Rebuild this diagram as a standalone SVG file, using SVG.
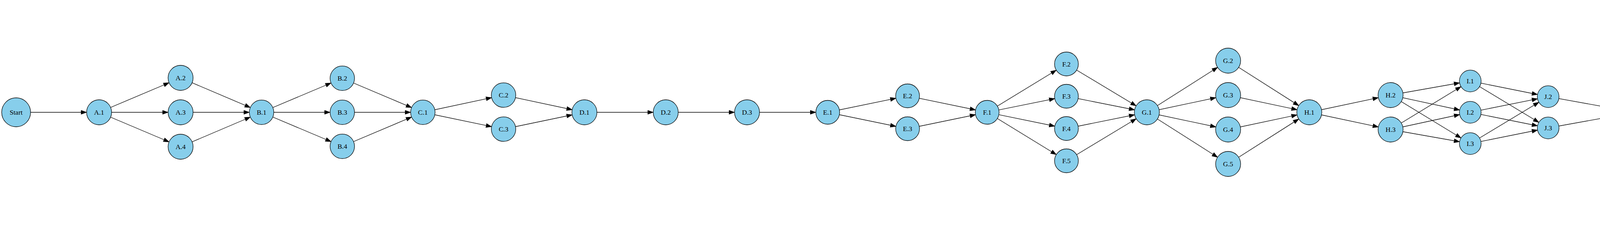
<svg xmlns="http://www.w3.org/2000/svg" width="7023" height="575" viewBox="0 0 7023 575">
<style>
.node circle { fill:#87CEEB; stroke:#000; stroke-width:1.3; }
.gate circle { fill:#FF0000; }
text { font-family:"Liberation Serif","Times New Roman",serif; font-size:17.5px; text-anchor:middle; fill:#000; }
#edges line { stroke:#000; stroke-width:1.3; fill:none; }
.a28 { marker-end:url(#m28); }
.a29 { marker-end:url(#m29); }
.a30 { marker-end:url(#m30); }
.a31 { marker-end:url(#m31); }
.a32 { marker-end:url(#m32); }
.a34 { marker-end:url(#m34); }
.a50 { marker-end:url(#m50); }
.a70 { marker-end:url(#m70); }
marker path { fill:#000; stroke:#000; stroke-width:1; }
</style>
<defs>
<marker id="m28" markerUnits="userSpaceOnUse" markerWidth="14" markerHeight="10" refX="41.8" refY="5" orient="auto" overflow="visible"><path d="M0,0 L14,5 L0,10 z"/></marker>
<marker id="m29" markerUnits="userSpaceOnUse" markerWidth="14" markerHeight="10" refX="42.8" refY="5" orient="auto" overflow="visible"><path d="M0,0 L14,5 L0,10 z"/></marker>
<marker id="m30" markerUnits="userSpaceOnUse" markerWidth="14" markerHeight="10" refX="44.5" refY="5" orient="auto" overflow="visible"><path d="M0,0 L14,5 L0,10 z"/></marker>
<marker id="m31" markerUnits="userSpaceOnUse" markerWidth="14" markerHeight="10" refX="45.3" refY="5" orient="auto" overflow="visible"><path d="M0,0 L14,5 L0,10 z"/></marker>
<marker id="m32" markerUnits="userSpaceOnUse" markerWidth="14" markerHeight="10" refX="46" refY="5" orient="auto" overflow="visible"><path d="M0,0 L14,5 L0,10 z"/></marker>
<marker id="m34" markerUnits="userSpaceOnUse" markerWidth="14" markerHeight="10" refX="48.3" refY="5" orient="auto" overflow="visible"><path d="M0,0 L14,5 L0,10 z"/></marker>
<marker id="m50" markerUnits="userSpaceOnUse" markerWidth="14" markerHeight="10" refX="64" refY="5" orient="auto" overflow="visible"><path d="M0,0 L14,5 L0,10 z"/></marker>
<marker id="m70" markerUnits="userSpaceOnUse" markerWidth="14" markerHeight="10" refX="84" refY="5" orient="auto" overflow="visible"><path d="M0,0 L14,5 L0,10 z"/></marker>
</defs>
<rect width="7023" height="575" fill="#fff"/>
<g id="edges">
<line class="a32" x1="41.3" y1="287" x2="253.7" y2="287"/>
<line class="a32" x1="253.7" y1="287" x2="462.3" y2="199"/>
<line class="a32" x1="253.7" y1="287" x2="462.3" y2="287"/>
<line class="a32" x1="253.7" y1="287" x2="462.3" y2="375"/>
<line class="a31" x1="462.3" y1="199" x2="669.6" y2="287"/>
<line class="a31" x1="462.3" y1="287" x2="669.6" y2="287"/>
<line class="a31" x1="462.3" y1="375" x2="669.6" y2="287"/>
<line class="a31" x1="669.6" y1="287" x2="876.3" y2="200"/>
<line class="a31" x1="669.6" y1="287" x2="876.3" y2="287"/>
<line class="a31" x1="669.6" y1="287" x2="876.3" y2="374"/>
<line class="a31" x1="876.3" y1="200" x2="1082.5" y2="287"/>
<line class="a31" x1="876.3" y1="287" x2="1082.5" y2="287"/>
<line class="a31" x1="876.3" y1="374" x2="1082.5" y2="287"/>
<line class="a31" x1="1082.5" y1="287" x2="1289.1" y2="243"/>
<line class="a31" x1="1082.5" y1="287" x2="1289.1" y2="330"/>
<line class="a32" x1="1289.1" y1="243" x2="1496.1" y2="287"/>
<line class="a32" x1="1289.1" y1="330" x2="1496.1" y2="287"/>
<line class="a32" x1="1496.1" y1="287" x2="1704.3" y2="287"/>
<line class="a32" x1="1704.3" y1="287" x2="1912.4" y2="287"/>
<line class="a30" x1="1912.4" y1="287" x2="2119" y2="287"/>
<line class="a30" x1="2119" y1="287" x2="2323.4" y2="245"/>
<line class="a30" x1="2119" y1="287" x2="2323.4" y2="329"/>
<line class="a30" x1="2323.4" y1="245" x2="2527.2" y2="287"/>
<line class="a30" x1="2323.4" y1="329" x2="2527.2" y2="287"/>
<line class="a30" x1="2527.2" y1="287" x2="2730.1" y2="163.5"/>
<line class="a30" x1="2527.2" y1="287" x2="2730.1" y2="246"/>
<line class="a30" x1="2527.2" y1="287" x2="2730.1" y2="328.5"/>
<line class="a30" x1="2527.2" y1="287" x2="2730.1" y2="411"/>
<line class="a32" x1="2730.1" y1="163.5" x2="2936" y2="287"/>
<line class="a32" x1="2730.1" y1="246" x2="2936" y2="287"/>
<line class="a32" x1="2730.1" y1="328.5" x2="2936" y2="287"/>
<line class="a32" x1="2730.1" y1="411" x2="2936" y2="287"/>
<line class="a32" x1="2936" y1="287" x2="3144" y2="155"/>
<line class="a32" x1="2936" y1="287" x2="3144" y2="243"/>
<line class="a32" x1="2936" y1="287" x2="3144" y2="331"/>
<line class="a32" x1="2936" y1="287" x2="3144" y2="419"/>
<line class="a32" x1="3144" y1="155" x2="3351.8" y2="287"/>
<line class="a32" x1="3144" y1="243" x2="3351.8" y2="287"/>
<line class="a32" x1="3144" y1="331" x2="3351.8" y2="287"/>
<line class="a32" x1="3144" y1="419" x2="3351.8" y2="287"/>
<line class="a32" x1="3351.8" y1="287" x2="3559.9" y2="243"/>
<line class="a32" x1="3351.8" y1="287" x2="3559.9" y2="331"/>
<line class="a28" x1="3559.9" y1="243" x2="3763.9" y2="207"/>
<line class="a28" x1="3559.9" y1="243" x2="3763.9" y2="287"/>
<line class="a28" x1="3559.9" y1="243" x2="3763.9" y2="367"/>
<line class="a28" x1="3559.9" y1="331" x2="3763.9" y2="207"/>
<line class="a28" x1="3559.9" y1="331" x2="3763.9" y2="287"/>
<line class="a28" x1="3559.9" y1="331" x2="3763.9" y2="367"/>
<line class="a28" x1="3763.9" y1="207" x2="3963.3" y2="247"/>
<line class="a28" x1="3763.9" y1="207" x2="3963.3" y2="327"/>
<line class="a28" x1="3763.9" y1="287" x2="3963.3" y2="247"/>
<line class="a28" x1="3763.9" y1="287" x2="3963.3" y2="327"/>
<line class="a28" x1="3763.9" y1="367" x2="3963.3" y2="247"/>
<line class="a28" x1="3763.9" y1="367" x2="3963.3" y2="327"/>
<line class="a50" x1="3963.3" y1="247" x2="4185.5" y2="287"/>
<line class="a50" x1="3963.3" y1="327" x2="4185.5" y2="287"/>
<line class="a32" x1="4185.5" y1="287" x2="4411.7" y2="287"/>
<line class="a30" x1="4411.7" y1="287" x2="4618.3" y2="35"/>
<line class="a30" x1="4411.7" y1="287" x2="4618.3" y2="119"/>
<line class="a30" x1="4411.7" y1="287" x2="4618.3" y2="203"/>
<line class="a30" x1="4411.7" y1="287" x2="4618.3" y2="287"/>
<line class="a30" x1="4411.7" y1="287" x2="4618.3" y2="371"/>
<line class="a30" x1="4411.7" y1="287" x2="4618.3" y2="455"/>
<line class="a30" x1="4411.7" y1="287" x2="4618.3" y2="539"/>
<line class="a34" x1="4618.3" y1="35" x2="4827.2" y2="287"/>
<line class="a34" x1="4618.3" y1="119" x2="4827.2" y2="287"/>
<line class="a34" x1="4618.3" y1="203" x2="4827.2" y2="287"/>
<line class="a34" x1="4618.3" y1="287" x2="4827.2" y2="287"/>
<line class="a34" x1="4618.3" y1="371" x2="4827.2" y2="287"/>
<line class="a34" x1="4618.3" y1="455" x2="4827.2" y2="287"/>
<line class="a34" x1="4618.3" y1="539" x2="4827.2" y2="287"/>
<line class="a34" x1="4827.2" y1="287" x2="5040.7" y2="194"/>
<line class="a34" x1="4827.2" y1="287" x2="5040.7" y2="287"/>
<line class="a34" x1="4827.2" y1="287" x2="5040.7" y2="380"/>
<line class="a32" x1="5040.7" y1="194" x2="5251.2" y2="287"/>
<line class="a32" x1="5040.7" y1="287" x2="5251.2" y2="287"/>
<line class="a32" x1="5040.7" y1="380" x2="5251.2" y2="287"/>
<line class="a32" x1="5251.2" y1="287" x2="5458.9" y2="287"/>
<line class="a32" x1="5458.9" y1="287" x2="5667" y2="199"/>
<line class="a32" x1="5458.9" y1="287" x2="5667" y2="287"/>
<line class="a32" x1="5458.9" y1="287" x2="5667" y2="375"/>
<line class="a32" x1="5667" y1="199" x2="5875.6" y2="243"/>
<line class="a32" x1="5667" y1="199" x2="5875.6" y2="331"/>
<line class="a32" x1="5667" y1="287" x2="5875.6" y2="243"/>
<line class="a32" x1="5667" y1="287" x2="5875.6" y2="331"/>
<line class="a32" x1="5667" y1="375" x2="5875.6" y2="243"/>
<line class="a32" x1="5667" y1="375" x2="5875.6" y2="331"/>
<line class="a29" x1="5875.6" y1="243" x2="6080.3" y2="205.5"/>
<line class="a29" x1="5875.6" y1="243" x2="6080.3" y2="287"/>
<line class="a29" x1="5875.6" y1="243" x2="6080.3" y2="368.5"/>
<line class="a29" x1="5875.6" y1="331" x2="6080.3" y2="205.5"/>
<line class="a29" x1="5875.6" y1="331" x2="6080.3" y2="287"/>
<line class="a29" x1="5875.6" y1="331" x2="6080.3" y2="368.5"/>
<line class="a32" x1="6080.3" y1="205.5" x2="6284.6" y2="287"/>
<line class="a32" x1="6080.3" y1="287" x2="6284.6" y2="287"/>
<line class="a32" x1="6080.3" y1="368.5" x2="6284.6" y2="287"/>
<line class="a32" x1="6284.6" y1="287" x2="6493" y2="287"/>
<line class="a32" x1="6493" y1="287" x2="6700.8" y2="287"/>
<line class="a70" x1="6700.8" y1="287" x2="6947.3" y2="287"/>
</g>
<g id="n-Start" class="node"><circle cx="41.3" cy="287" r="37"/><text x="41.3" y="293">Start</text></g>
<g id="n-A1" class="node"><circle cx="253.7" cy="287" r="32"/><text x="253.7" y="293">A.1</text></g>
<g id="n-A2" class="node"><circle cx="462.3" cy="199" r="32"/><text x="462.3" y="205">A.2</text></g>
<g id="n-A3" class="node"><circle cx="462.3" cy="287" r="32"/><text x="462.3" y="293">A.3</text></g>
<g id="n-A4" class="node"><circle cx="462.3" cy="375" r="32"/><text x="462.3" y="381">A.4</text></g>
<g id="n-B1" class="node"><circle cx="669.6" cy="287" r="31.3"/><text x="669.6" y="293">B.1</text></g>
<g id="n-B2" class="node"><circle cx="876.3" cy="200" r="31.3"/><text x="876.3" y="206">B.2</text></g>
<g id="n-B3" class="node"><circle cx="876.3" cy="287" r="31.3"/><text x="876.3" y="293">B.3</text></g>
<g id="n-B4" class="node"><circle cx="876.3" cy="374" r="31.3"/><text x="876.3" y="380">B.4</text></g>
<g id="n-C1" class="node"><circle cx="1082.5" cy="287" r="31.3"/><text x="1082.5" y="293">C.1</text></g>
<g id="n-C2" class="node"><circle cx="1289.1" cy="243" r="31.3"/><text x="1289.1" y="249">C.2</text></g>
<g id="n-C3" class="node"><circle cx="1289.1" cy="330" r="31.3"/><text x="1289.1" y="336">C.3</text></g>
<g id="n-D1" class="node"><circle cx="1496.1" cy="287" r="32"/><text x="1496.1" y="293">D.1</text></g>
<g id="n-D2" class="node"><circle cx="1704.3" cy="287" r="32"/><text x="1704.3" y="293">D.2</text></g>
<g id="n-D3" class="node"><circle cx="1912.4" cy="287" r="32"/><text x="1912.4" y="293">D.3</text></g>
<g id="n-E1" class="node"><circle cx="2119" cy="287" r="30.5"/><text x="2119" y="293">E.1</text></g>
<g id="n-E2" class="node"><circle cx="2323.4" cy="245" r="30.5"/><text x="2323.4" y="251">E.2</text></g>
<g id="n-E3" class="node"><circle cx="2323.4" cy="329" r="30.5"/><text x="2323.4" y="335">E.3</text></g>
<g id="n-F1" class="node"><circle cx="2527.2" cy="287" r="30.5"/><text x="2527.2" y="293">F.1</text></g>
<g id="n-F2" class="node"><circle cx="2730.1" cy="163.5" r="30.5"/><text x="2730.1" y="169.5">F.2</text></g>
<g id="n-F3" class="node"><circle cx="2730.1" cy="246" r="30.5"/><text x="2730.1" y="252">F.3</text></g>
<g id="n-F4" class="node"><circle cx="2730.1" cy="328.5" r="30.5"/><text x="2730.1" y="334.5">F.4</text></g>
<g id="n-F5" class="node"><circle cx="2730.1" cy="411" r="30.5"/><text x="2730.1" y="417">F.5</text></g>
<g id="n-G1" class="node"><circle cx="2936" cy="287" r="32"/><text x="2936" y="293">G.1</text></g>
<g id="n-G2" class="node"><circle cx="3144" cy="155" r="32"/><text x="3144" y="161">G.2</text></g>
<g id="n-G3" class="node"><circle cx="3144" cy="243" r="32"/><text x="3144" y="249">G.3</text></g>
<g id="n-G4" class="node"><circle cx="3144" cy="331" r="32"/><text x="3144" y="337">G.4</text></g>
<g id="n-G5" class="node"><circle cx="3144" cy="419" r="32"/><text x="3144" y="425">G.5</text></g>
<g id="n-H1" class="node"><circle cx="3351.8" cy="287" r="32"/><text x="3351.8" y="293">H.1</text></g>
<g id="n-H2" class="node"><circle cx="3559.9" cy="243" r="32"/><text x="3559.9" y="249">H.2</text></g>
<g id="n-H3" class="node"><circle cx="3559.9" cy="331" r="32"/><text x="3559.9" y="337">H.3</text></g>
<g id="n-I1" class="node"><circle cx="3763.9" cy="207" r="27.8"/><text x="3763.9" y="213">I.1</text></g>
<g id="n-I2" class="node"><circle cx="3763.9" cy="287" r="27.8"/><text x="3763.9" y="293">I.2</text></g>
<g id="n-I3" class="node"><circle cx="3763.9" cy="367" r="27.8"/><text x="3763.9" y="373">I.3</text></g>
<g id="n-J2" class="node"><circle cx="3963.3" cy="247" r="27.8"/><text x="3963.3" y="253">J.2</text></g>
<g id="n-J3" class="node"><circle cx="3963.3" cy="327" r="27.8"/><text x="3963.3" y="333">J.3</text></g>
<g id="n-J1Gate" class="node gate"><circle cx="4185.5" cy="287" r="50"/><text x="4185.5" y="293">J.1Gate</text></g>
<g id="n-K1" class="node"><circle cx="4411.7" cy="287" r="32"/><text x="4411.7" y="293">K.1</text></g>
<g id="n-L1" class="node"><circle cx="4618.3" cy="35" r="30.5"/><text x="4618.3" y="41">L.1</text></g>
<g id="n-L2" class="node"><circle cx="4618.3" cy="119" r="30.5"/><text x="4618.3" y="125">L.2</text></g>
<g id="n-L3" class="node"><circle cx="4618.3" cy="203" r="30.5"/><text x="4618.3" y="209">L.3</text></g>
<g id="n-L4" class="node"><circle cx="4618.3" cy="287" r="30.5"/><text x="4618.3" y="293">L.4</text></g>
<g id="n-L5" class="node"><circle cx="4618.3" cy="371" r="30.5"/><text x="4618.3" y="377">L.5</text></g>
<g id="n-L6" class="node"><circle cx="4618.3" cy="455" r="30.5"/><text x="4618.3" y="461">L.6</text></g>
<g id="n-L7" class="node"><circle cx="4618.3" cy="539" r="30.5"/><text x="4618.3" y="545">L.7</text></g>
<g id="n-M1" class="node"><circle cx="4827.2" cy="287" r="34.3"/><text x="4827.2" y="293">M.1</text></g>
<g id="n-M2" class="node"><circle cx="5040.7" cy="194" r="34.3"/><text x="5040.7" y="200">M.2</text></g>
<g id="n-M3" class="node"><circle cx="5040.7" cy="287" r="34.3"/><text x="5040.7" y="293">M.3</text></g>
<g id="n-M4" class="node"><circle cx="5040.7" cy="380" r="34.3"/><text x="5040.7" y="386">M.4</text></g>
<g id="n-N1" class="node"><circle cx="5251.2" cy="287" r="32"/><text x="5251.2" y="293">N.1</text></g>
<g id="n-N2" class="node"><circle cx="5458.9" cy="287" r="32"/><text x="5458.9" y="293">N.2</text></g>
<g id="n-O1" class="node"><circle cx="5667" cy="199" r="32"/><text x="5667" y="205">O.1</text></g>
<g id="n-O2" class="node"><circle cx="5667" cy="287" r="32"/><text x="5667" y="293">O.2</text></g>
<g id="n-O3" class="node"><circle cx="5667" cy="375" r="32"/><text x="5667" y="381">O.3</text></g>
<g id="n-O4" class="node"><circle cx="5875.6" cy="243" r="32"/><text x="5875.6" y="249">O.4</text></g>
<g id="n-O5" class="node"><circle cx="5875.6" cy="331" r="32"/><text x="5875.6" y="337">O.5</text></g>
<g id="n-P1" class="node"><circle cx="6080.3" cy="205.5" r="28.8"/><text x="6080.3" y="211.5">P.1</text></g>
<g id="n-P2" class="node"><circle cx="6080.3" cy="287" r="28.8"/><text x="6080.3" y="293">P.2</text></g>
<g id="n-P3" class="node"><circle cx="6080.3" cy="368.5" r="28.8"/><text x="6080.3" y="374.5">P.3</text></g>
<g id="n-Q1" class="node"><circle cx="6284.6" cy="287" r="32"/><text x="6284.6" y="293">Q.1</text></g>
<g id="n-Q2" class="node"><circle cx="6493" cy="287" r="32"/><text x="6493" y="293">Q.2</text></g>
<g id="n-Q3" class="node"><circle cx="6700.8" cy="287" r="32"/><text x="6700.8" y="293">Q.3</text></g>
<g id="n-Completion" class="node"><circle cx="6947.3" cy="287" r="70"/><text x="6947.3" y="293">Completion</text></g>
</svg>
